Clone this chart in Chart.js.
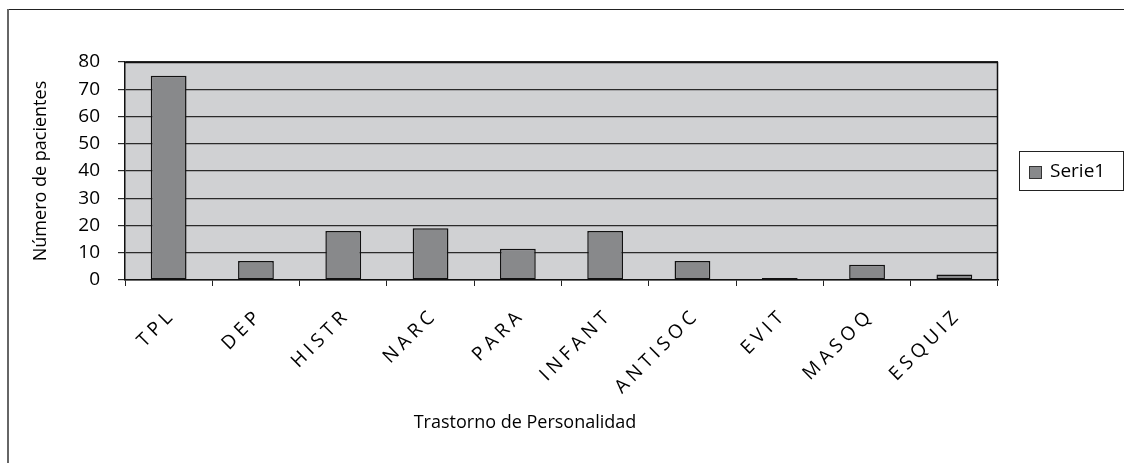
<!DOCTYPE html>
<html lang="es">
<head>
<meta charset="utf-8">
<title>Trastorno de Personalidad</title>
<script src="https://cdn.jsdelivr.net/npm/chart.js@4/dist/chart.umd.min.js"></script>
<style>
    html, body { margin: 0; padding: 0; background: #fff; }
    #wrap { width: 1124px; height: 463px; position: relative; }
</style>
</head>
<body>
<div id="wrap"><canvas id="graficoTrastornos" width="1124" height="463"></canvas></div>
<script>
// Datos
const categorias = ['TPL', 'DEP', 'HISTR', 'NARC', 'PARA', 'INFANT', 'ANTISOC', 'EVIT', 'MASOQ', 'ESQUIZ'];
const serie1 = [75, 7, 18, 19, 11.5, 18, 7, 0.7, 5.6, 2];
const nombreSerie = 'Serie1';
const ticksY = [0, 10, 20, 30, 40, 50, 60, 70, 80];

const fuente = "'Open Sans', 'Noto Sans', sans-serif";
const colorBarra = '#88898b';
const colorFondo = '#d0d1d3';

// 1. Marco exterior, fondo del área y leyenda con caja
const marcoPlugin = {
    id: 'marco',
    beforeDraw(chart) {
        const ctx = chart.ctx;
        const a = chart.chartArea;
        ctx.save();
        ctx.fillStyle = '#fff';
        ctx.fillRect(0, 0, chart.width, chart.height);
        // borde exterior (arriba e izquierda)
        ctx.strokeStyle = '#222';
        ctx.lineWidth = 1;
        ctx.beginPath();
        ctx.moveTo(8, 9.5); ctx.lineTo(chart.width, 9.5);
        ctx.stroke();
        ctx.strokeStyle = '#666';
        ctx.lineWidth = 2;
        ctx.beginPath();
        ctx.moveTo(8, 9); ctx.lineTo(8, chart.height);
        ctx.stroke();
        // fondo gris del área de trazado
        ctx.fillStyle = colorFondo;
        ctx.fillRect(a.left, a.top, a.right - a.left, a.bottom - a.top);
        ctx.restore();

        // espaciado de letras solo para las etiquetas del eje X
        const sx = chart.scales.x;
        if (!sx._conEspaciado) {
            const original = sx.drawLabels.bind(sx);
            sx.drawLabels = function (area) {
                chart.ctx.save();
                chart.ctx.letterSpacing = '4.5px';
                original(area);
                chart.ctx.restore();
            };
            sx._conEspaciado = true;
        }
    },
    beforeDatasetsDraw(chart) {
        const ctx = chart.ctx;
        const a = chart.chartArea;
        ctx.save();
        ctx.strokeStyle = '#111';
        ctx.lineWidth = 1.5;
        ctx.beginPath();
        ctx.moveTo(a.left, a.top + 0.5);
        ctx.lineTo(a.right - 0.5, a.top + 0.5);
        ctx.lineTo(a.right - 0.5, a.bottom);
        ctx.stroke();
        ctx.restore();
    },
    afterDraw(chart) {
        const ctx = chart.ctx;
        const ds = chart.data.datasets[0];
        ctx.save();
        // leyenda
        ctx.strokeStyle = '#222';
        ctx.lineWidth = 1;
        ctx.strokeRect(1019.5, 151.5, 104, 39);
        ctx.fillStyle = ds.backgroundColor;
        ctx.fillRect(1029, 166, 13, 13);
        ctx.strokeStyle = '#333';
        ctx.strokeRect(1029.5, 166.5, 12, 12);
        ctx.fillStyle = '#000';
        ctx.font = `19px ${fuente}`;
        ctx.textBaseline = 'middle';
        ctx.textAlign = 'left';
        ctx.fillText(ds.label, 1050, 172);
        // título del eje X
        ctx.font = `18px ${fuente}`;
        ctx.textAlign = 'center';
        ctx.fillText('Trastorno de Personalidad', 525, 423);
        ctx.restore();
    }
};

// 2. Gráfico de barras
const ctxT = document.getElementById('graficoTrastornos').getContext('2d');
const chartTrastornos = new Chart(ctxT, {
    type: 'bar',
    data: {
        labels: categorias,
        datasets: [{
            label: nombreSerie,
            data: serie1,
            backgroundColor: colorBarra,
            borderColor: '#111',
            borderWidth: 1.5,
            borderSkipped: false,
            categoryPercentage: 1,
            barPercentage: 0.41
        }]
    },
    options: {
        responsive: false,
        animation: false,
        layout: { padding: { top: 62, right: 126, left: 0, bottom: 0 } },
        plugins: { legend: { display: false }, tooltip: { enabled: false } },
        scales: {
            x: {
                offset: true,
                grid: { offset: true, drawOnChartArea: false, drawTicks: true, tickLength: 6, color: '#222', lineWidth: 1 },
                border: { color: '#111', width: 1.5 },
                ticks: { minRotation: 45, maxRotation: 45, padding: 18, labelOffset: 4, color: '#000', font: { family: fuente, size: 19 } },
                afterFit(scale) { scale.height = 183; }
            },
            y: {
                min: 0,
                max: 80,
                afterBuildTicks(scale) { scale.ticks = ticksY.map(v => ({ value: v })); },
                grid: { color: '#2a2a2a', lineWidth: 1.2, tickLength: 7 },
                border: { color: '#111', width: 1.5 },
                ticks: { padding: 18, color: '#000', font: { family: fuente, size: 19 } },
                title: { display: true, text: 'Número de pacientes', color: '#000', font: { family: fuente, size: 18 }, padding: { top: 30, bottom: 0 } },
                afterFit(scale) { scale.width = 125; }
            }
        }
    },
    plugins: [marcoPlugin]
});
</script>
</body>
</html>
